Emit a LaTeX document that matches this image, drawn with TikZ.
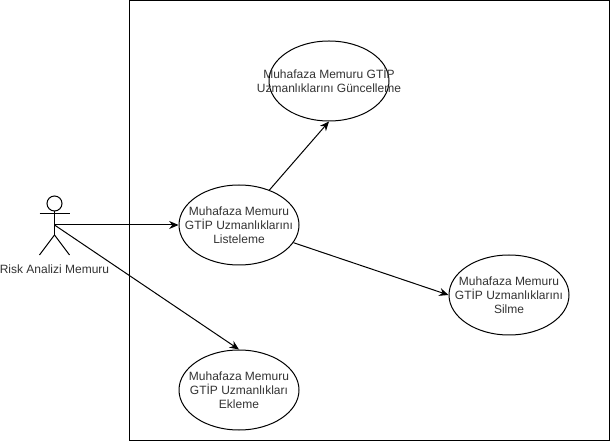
\documentclass[tikz,border=0pt]{standalone}
\usepackage{fontspec}
\setmainfont{Liberation Sans}
\usetikzlibrary{shapes.geometric,arrows.meta}
\tikzset{
  usecase/.style={draw=black,fill=white,ellipse,minimum width=90pt,minimum height=60pt,inner sep=0pt,line width=0.75pt},
  lbl/.style={align=center,font=\fontsize{9}{10.4}\selectfont,text=black!80,inner sep=0pt},
  line/.style={draw=black,line width=0.75pt},
  conn/.style={line,-{Stealth[length=7pt,width=6pt]}},
}
\begin{document}
\begin{tikzpicture}[x=0.75pt,y=-0.75pt]
\useasboundingbox (0,0) rectangle (610,441);
\node[draw=black,line width=0.75pt,minimum width=360pt,minimum height=330pt,inner sep=0pt,outer sep=0pt,anchor=north west] (frame) at (129.5,0.5) {};
\node[usecase] (top) at (329,81) {};
\node[lbl] (topt) at (329,80.5) {Muhafaza Memuru GTİP\\Uzmanlıklarını Güncelleme};
\node[usecase] (list) at (239,225) {};
\node[lbl] (listt) at (239,225) {Muhafaza Memuru\\GTİP Uzmanlıklarını\\Listeleme};
\node[usecase] (del) at (509,295) {};
\node[lbl] (delt) at (509,295) {Muhafaza Memuru\\GTİP Uzmanlıklarını\\Silme};
\node[usecase] (add) at (239,390) {};
\node[lbl] (addt) at (239,390) {Muhafaza Memuru\\GTİP Uzmanlıkları\\Ekleme};
% actor
\node[draw=black,circle,line width=0.75pt,minimum size=11.25pt,inner sep=0pt] (head) at (54.5,203.5) {};
\coordinate (hip) at (54.5,235);
\coordinate (arml) at (39.5,214);
\coordinate (armr) at (69.5,214);
\coordinate (legl) at (39.5,255);
\coordinate (legr) at (69.5,255);
\coordinate (actor) at (54.5,225);
\draw[line] (head.south) -- (hip);
\draw[line] (arml) -- (armr);
\draw[line] (legl) -- (hip) -- (legr);
\node[lbl] (actorl) at (54.5,269) {Risk Analizi Memuru};
% connectors
\draw[conn] (actor) -- (list.west);
\draw[conn] (actor) -- (add.north);
\draw[conn] (list.49.4) -- (top.south);
\draw[conn] (list.-18.4) -- (del.west);
\end{tikzpicture}
\end{document}
